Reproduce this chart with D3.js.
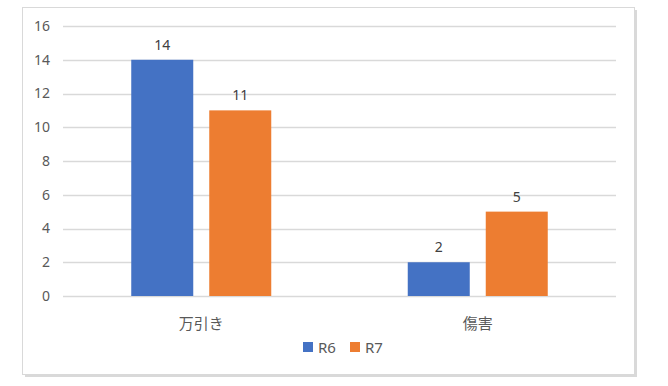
<!DOCTYPE html>
<html>
<head>
<meta charset="utf-8">
<script src="https://cdn.jsdelivr.net/npm/d3@7"></script>
<style>
  body { margin: 0; background: #fff; }
  svg text { font-family: "Noto Sans", "Noto Sans CJK JP", sans-serif; }
</style>
</head>
<body>
<div id="chart"></div>
<script>
// data
const categories = ["万引き", "傷害"];
const seriesNames = ["R6", "R7"];
const r6 = [14, 2];
const r7 = [11, 5];
const yTicks = [0, 2, 4, 6, 8, 10, 12, 14, 16];
const colors = ["#4472C4", "#ED7D31"];

const W = 668, H = 386;
const plot = { left: 63, right: 616, top: 26, bottom: 296 };

const svg = d3.select("#chart").append("svg")
  .attr("width", W).attr("height", H);

// chart frame w/ shadow on right + bottom
svg.append("rect").attr("x", 25).attr("y", 10).attr("width", 612).attr("height", 367).attr("fill", "#d9d9d9");
svg.append("rect").attr("x", 22.5).attr("y", 7.5).attr("width", 612).attr("height", 367)
  .attr("fill", "#fff").attr("stroke", "#d9d9d9").attr("stroke-width", 1);

const x0 = d3.scaleBand().domain(categories).range([plot.left, plot.right]).paddingInner(0).paddingOuter(0);
const y = d3.scaleLinear().domain([0, 16]).range([plot.bottom, plot.top]);

// gridlines
svg.append("g").selectAll("line").data(yTicks).join("line")
  .attr("x1", plot.left).attr("x2", plot.right)
  .attr("y1", d => Math.round(y(d)) + 0.5).attr("y2", d => Math.round(y(d)) + 0.5)
  .attr("stroke", "#d9d9d9").attr("stroke-width", 1.5);

// y axis labels
const yAxis = svg.append("g").attr("transform", `translate(${plot.left},0)`)
  .call(d3.axisLeft(y).tickValues(yTicks).tickSize(0).tickPadding(13));
yAxis.select(".domain").remove();
yAxis.selectAll("text").attr("fill", "#595959").style("font-size", "14px");

// bars
const barW = 62, barGap = 16;
const rows = categories.map((c, i) => ({ cat: c, vals: [r6[i], r7[i]] }));

const grp = svg.append("g").selectAll("g").data(rows).join("g")
  .attr("transform", d => `translate(${x0(d.cat) + x0.bandwidth() / 2 - (barW + barGap / 2)},0)`);

grp.selectAll("rect").data(d => d.vals.map((v, j) => ({ s: seriesNames[j], v, j }))).join("rect")
  .attr("x", d => d.j * (barW + barGap))
  .attr("y", d => y(d.v))
  .attr("width", barW)
  .attr("height", d => y(0) - y(d.v))
  .attr("fill", d => colors[d.j]);

grp.selectAll("text").data(d => d.vals.map((v, j) => ({ v, j }))).join("text")
  .attr("x", d => d.j * (barW + barGap) + barW / 2)
  .attr("y", d => y(d.v) - 10)
  .attr("text-anchor", "middle")
  .attr("fill", "#404040")
  .style("font-size", "14px")
  .text(d => d.v);

// category axis labels
svg.append("g").selectAll("text").data(categories).join("text")
  .attr("x", d => x0(d) + x0.bandwidth() / 2)
  .attr("y", 329)
  .attr("text-anchor", "middle")
  .attr("fill", "#595959")
  .style("font-size", "15px")
  .style("font-family", "'Noto Sans CJK JP', sans-serif")
  .text(d => d);

// legend
const legendX = [303, 350];
const leg = svg.append("g").selectAll("g").data(seriesNames).join("g")
  .attr("transform", (d, i) => `translate(${legendX[i]},342)`);
leg.append("rect").attr("width", 10).attr("height", 10).attr("fill", (d, i) => colors[i]);
leg.append("text").attr("x", 15).attr("y", 11).attr("fill", "#595959")
  .style("font-size", "15px").text(d => d);
</script>
</body>
</html>
